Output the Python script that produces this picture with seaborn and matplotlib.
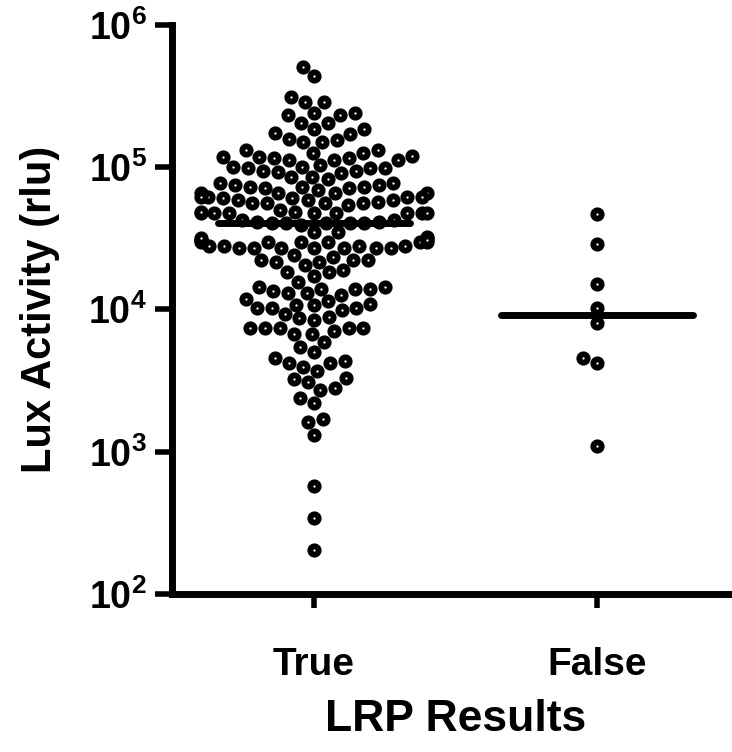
import matplotlib
matplotlib.use("Agg")
import matplotlib.pyplot as plt
import seaborn as sns
import numpy as np
import pandas as pd

sns.set_style("ticks")
plt.rcParams['font.family'] = ['Liberation Sans', 'DejaVu Sans']
plt.rcParams['font.weight'] = 'bold'
plt.rcParams['text.color'] = 'black'
plt.rcParams['axes.labelcolor'] = 'black'
plt.rcParams['xtick.color'] = 'black'
plt.rcParams['ytick.color'] = 'black'
plt.rcParams['mathtext.fontset'] = 'custom'
plt.rcParams['mathtext.rm'] = 'Liberation Sans:bold'
plt.rcParams['mathtext.bf'] = 'Liberation Sans:bold'

groups = ["True", "False"]

# Lux activity (rlu), roughly row by row from the top
true_lux = [
    507000, 438500, 312600, 288000, 288000, 241300, 241300, 233600, 233600,
    205300, 205300, 186300, 186300, 174600, 171800, 158500, 156000, 151000, 151000,
    116600, 116600, 112900, 126400, 118500, 132700, 126400, 132700, 112900, 112900, 118500, 120400,
    94500, 93000, 85800, 100900, 99200, 99200, 100900, 104100, 99200, 83000, 85800, 91500, 94500,
    66200, 66200, 75400, 72900, 72900, 77900, 75400, 77900, 71800, 66200, 66200, 71800, 72900, 69500,
    54600, 56300, 62100, 62100, 59100, 56300, 62100, 59100, 62100, 56300, 56300, 61100, 59100, 57300, 61100,
    48000, 48000, 48000, 48000, 48000, 48000, 48000, 48000, 50300, 48800, 48800,
    40800, 40800, 39500, 40800, 42800, 41500, 42800, 35300, 35300, 40800, 40800, 41500,
    32000, 30000, 30000, 30000, 30000, 30000, 32500, 30000, 31000, 31000, 31000, 32000,
    27200, 28100, 27200, 27200, 28100, 27200, 27200, 28100, 27200, 27200, 28100,
    24300, 23200, 22400, 21700, 21400, 22400, 22400, 20700, 18200, 17300, 18800, 18200,
    14000, 13400, 13100, 14500, 14000, 14500, 15700, 14000,
    11900, 12700, 13100, 10700, 10300, 9840, 10800, 11000, 11400, 10300, 10300,
    8650, 8380, 8790, 9230, 7360, 7360, 7010, 6680, 6680, 7360, 7360, 7360,
    5900, 4990, 5440, 4340, 4180, 4180, 4580, 3960, 3690,
    3280, 2720, 3090, 3270, 2820, 2210, 2400, 1620, 1690, 1310,
    573, 341, 204,
]
false_lux = [47200, 29000, 15200, 10300, 7980, 4530, 4180, 1090]

y_ticks = [1e2, 1e3, 1e4, 1e5, 1e6]
y_tick_labels = [r'$10^{2}$', r'$10^{3}$', r'$10^{4}$', r'$10^{5}$', r'$10^{6}$']

df = pd.DataFrame({
    'LRP': ['True'] * len(true_lux) + ['False'] * len(false_lux),
    'Lux': true_lux + false_lux,
})

fig = plt.figure(figsize=(7.32, 7.52), dpi=100)
ax = fig.add_axes([0.235, 0.2101, 0.765, 0.7567])
ax.set_yscale('log')

sns.swarmplot(data=df, x='LRP', y='Lux', order=groups, ax=ax,
              color='white', edgecolor='black', linewidth=4.2, size=6.0,
              warn_thresh=1, zorder=2)

# median lines
for i, vals in enumerate([true_lux, false_lux]):
    med = np.median(vals)
    ax.plot([i - 0.34, i + 0.34], [med, med], color='black', lw=5,
            solid_capstyle='round', zorder=3)

ax.set_xlim(-0.502, 1.477)
ax.set_ylim(1e2, 1e6)
ax.set_yticks(y_ticks)
ax.set_yticklabels(y_tick_labels)
ax.minorticks_off()

for side in ['top', 'right']:
    ax.spines[side].set_visible(False)
for side in ['left', 'bottom']:
    ax.spines[side].set_linewidth(5)
    ax.spines[side].set_color('black')

ax.tick_params(axis='y', length=12, width=4, pad=6, labelsize=27)
ax.tick_params(axis='x', length=10, width=4, pad=28, labelsize=28)

ax.set_xlabel('LRP Results', fontsize=32, fontweight='bold')
ax.set_ylabel('Lux Activity (rlu)', fontsize=30, fontweight='bold')
ax.xaxis.set_label_coords(0.507, -0.185)
ax.yaxis.set_label_coords(-0.20, 0.5)

fig.savefig('out.png', dpi=100)
